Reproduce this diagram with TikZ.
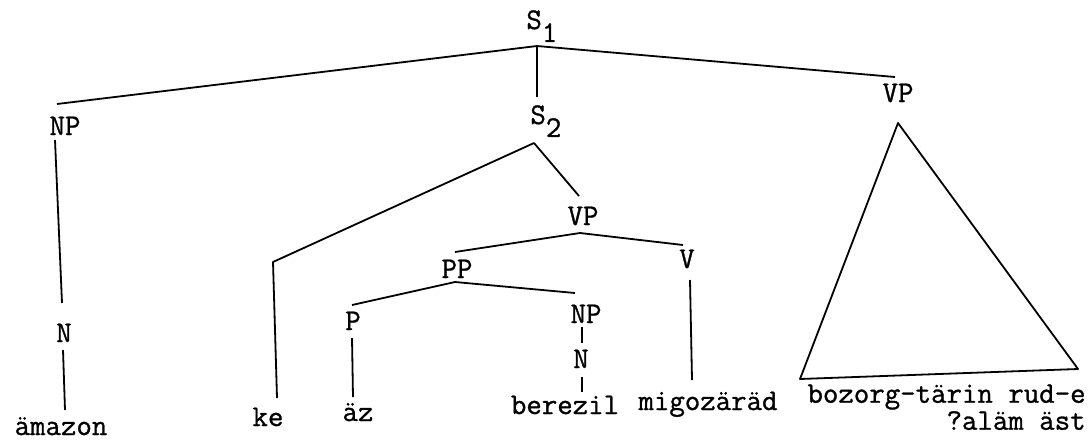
\documentclass[tikz,border=0pt]{standalone}
\usepackage{fontspec}
\newfontfamily\typewr{Latin Modern Mono}[FakeBold=1]
\begin{document}
\begin{tikzpicture}[x=0.5pt,y=-0.5pt,
  lbl/.style={inner sep=0pt, anchor=base, font=\fontsize{15}{13.5}\selectfont\typewr},
  edge/.style={line width=0.9pt, line join=round}]
\useasboundingbox (0,0) rectangle (1091,440);
% labels
\node[lbl, anchor=base west] (s1) at (526,29) {S\raisebox{-0.43em}{1}};
\node[lbl, anchor=base west] (s2) at (530,124) {S\raisebox{-0.43em}{2}};
\node[lbl] (np1) at (65,135) {NP};
\node[lbl] (vpr) at (898,102) {VP};
\node[lbl] (vpm) at (583,225) {VP};
\node[lbl] (pp) at (457,278) {PP};
\node[lbl] (v) at (687,268) {V};
\node[lbl] (p) at (353,330) {P};
\node[lbl] (np2) at (586,323) {NP};
\node[lbl] (n2) at (581,368) {N};
\node[lbl] (n1) at (64,342) {N};
\node[lbl] (amazon) at (61,435) {ämazon};
\node[lbl] (ke) at (268,426) {ke};
\node[lbl] (az) at (358,421) {äz};
\node[lbl] (berezil) at (565,414) {berezil};
\node[lbl] (migo) at (708,410) {migozäräd};
\node[lbl, anchor=north east, align=right] (bozorg) at (1086,384) {bozorg-tärin rud-e\\?aläm äst};
% junction points
\coordinate (a1) at (537,46);
\coordinate (a2) at (534,143);
\coordinate (a3) at (580,233);
\coordinate (a4) at (455,282);
\coordinate (kek) at (273,262);
\coordinate (tA) at (898,123);
\coordinate (tL) at (800,379);
\coordinate (tR) at (1078,369);
% connectors
\draw[edge] (a1) -- (57,104) coordinate (np1t);
\draw[edge] (a1) -- (895,77) coordinate (vprt);
\draw[edge] (a1) -- (537,97) coordinate (s2t);
\draw[edge] (55,140) coordinate (np1b) -- (62,303) coordinate (n1t);
\draw[edge] (63,350) coordinate (n1b) -- (65,410) coordinate (amt);
\draw[edge] (a2) -- (kek) -- (277,398) coordinate (ket);
\draw[edge] (a2) -- (579,196) coordinate (vpmt);
\draw[edge] (a3) -- (455,252) coordinate (ppt);
\draw[edge] (a3) -- (683,245) coordinate (vt);
\draw[edge] (690,280) coordinate (vb) -- (692,380) coordinate (migt);
\draw[edge] (a4) -- (352,305) coordinate (pt);
\draw[edge] (a4) -- (575,293) coordinate (np2t);
\draw[edge] (352,338) coordinate (pb) -- (353,397) coordinate (azt);
\draw[edge] (582,327) coordinate (np2b) -- (582,343) coordinate (n2t);
\draw[edge] (582,377) coordinate (n2b) -- (582,392) coordinate (bert);
\draw[edge] (tA) -- (tL) -- (tR) -- cycle;
\end{tikzpicture}
\end{document}
